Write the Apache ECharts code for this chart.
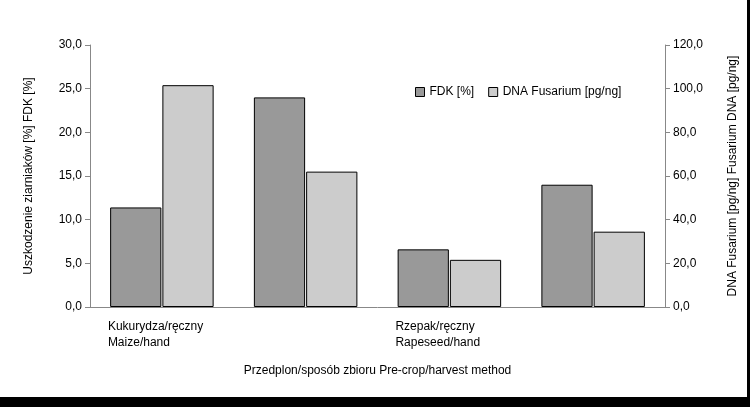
<!DOCTYPE html><html><head><meta charset="utf-8"><script src="https://cdn.jsdelivr.net/npm/echarts@6/dist/echarts.min.js"></script>
<style>html,body{margin:0;padding:0;background:#fff}#c{width:750px;height:407px}
#b{position:absolute;left:0;top:397px;width:750px;height:10px;background:#000}#r{position:absolute;left:747px;top:0;width:3px;height:407px;background:#000}</style></head><body><div id="c"></div><div id="b"></div><div id="r"></div>
<script>
const categories=['Kukurydza/ręczny\nMaize/hand','Kukurydza/kombajn\nMaize/combine','Rzepak/ręczny\nRapeseed/hand','Rzepak/kombajn\nRapeseed/combine'];
const fdk=[11.4,24.0,6.6,14.0];
const dna=[101.6,62.0,21.6,34.5];
const leftTicks=[0,5,10,15,20,25,30];
const rightTicks=[0,20,40,60,80,100,120];
const f=v=>v.toFixed(1).replace('.',',');
const ax={fontFamily:'Liberation Sans',fontSize:12,color:'#000'};
const c=echarts.init(document.getElementById('c'));
c.setOption({animation:false,textStyle:{fontFamily:'Liberation Sans'},
grid:{left:90,right:85,top:45,bottom:100},
legend:{left:410,top:81,icon:'rect',itemWidth:9,itemHeight:9,itemGap:14,textStyle:{fontSize:12,color:'#000'},itemStyle:{borderColor:'#000',borderWidth:1},data:['FDK [%]','DNA Fusarium [pg/ng]']},
xAxis:{type:'category',data:categories,axisLine:{lineStyle:{color:'#888'}},axisTick:{length:5,lineStyle:{color:'#888'}},
axisLabel:{...ax,margin:12,formatter:v=>v.split('\n').map(s=>'{a|'+s+'}').join('\n'),rich:{a:{...ax,width:108,align:'left',lineHeight:16}}},
name:'Przedplon/sposób zbioru Pre-crop/harvest method',nameLocation:'middle',nameGap:58,nameTextStyle:ax},
yAxis:[{type:'value',min:0,max:30,interval:5,axisLine:{show:true,lineStyle:{color:'#888'}},axisTick:{show:true,length:5,lineStyle:{color:'#888'}},splitLine:{show:false},axisLabel:{...ax,formatter:f,margin:8},
name:'Uszkodzenie ziarniaków [%] FDK [%]',nameLocation:'middle',nameGap:55,nameTextStyle:ax},
{type:'value',min:0,max:120,interval:20,position:'right',axisLine:{show:true,lineStyle:{color:'#888'}},axisTick:{show:true,length:5,lineStyle:{color:'#888'}},splitLine:{show:false},axisLabel:{...ax,formatter:f,margin:8},
name:'DNA Fusarium [pg/ng] Fusarium DNA [pg/ng]',nameLocation:'middle',nameGap:62,nameRotate:90,nameTextStyle:ax}],
series:[{name:'FDK [%]',type:'bar',data:fdk,barGap:'2%',barCategoryGap:'28%',itemStyle:{color:'#999999',borderColor:'#000',borderWidth:1}},
{name:'DNA Fusarium [pg/ng]',type:'bar',yAxisIndex:1,data:dna,itemStyle:{color:'#cccccc',borderColor:'#000',borderWidth:1}}]});
</script></body></html>
